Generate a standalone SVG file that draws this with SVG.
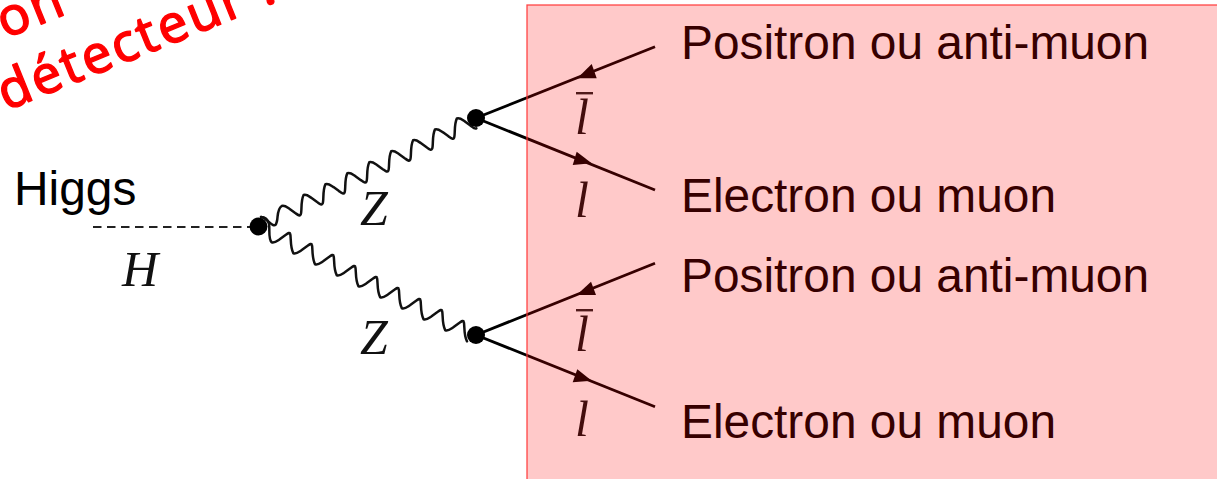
<svg xmlns="http://www.w3.org/2000/svg" width="1217" height="479" viewBox="0 0 1217 479">
<style>
.w{fill:none;stroke:#111;stroke-width:2.500;stroke-linejoin:round;stroke-linecap:round}
.f{fill:none;stroke:#000;stroke-width:2.800}
.h{fill:none;stroke:#222;stroke-width:2.200;stroke-dasharray:8.500 5.500}
.a{fill:#000}
.v{fill:#000}
.m{font-family:"Liberation Serif","DejaVu Serif",serif;font-style:italic;fill:#111;font-size:50px}
.t{font-family:"Liberation Sans",Arial,sans-serif;font-size:47.850px;fill:#000}
.r{font-family:"Noto Sans","DejaVu Sans",sans-serif;font-size:53px;fill:#f00;stroke:#f00;stroke-width:1.300;stroke-linejoin:round;letter-spacing:2.500px}
</style>
<rect width="1217" height="479" fill="#fff"/>
<g id="connectors">
<path id="higgs-line" class="h" d="M93 227H250"/>
<path id="z-upper" class="w" d="M261 217c4,0 9,7 12,8c3,1 3,-1 4,-4c1,-4 0,-12 4.700,-15c3,-1 5,1 8,3l5.500,4c2.500,1.700 4.500,3.500 5.500,1.500c1.500,-3 -0.300,-13 2.900,-19.450c3,-1 5,1 8,3l5.500,4c2.500,1.700 4.500,3.500 5.500,1.500c1.500,-3 -0.300,-13 2.900,-19.450c3,-1 5,1 8,3l5.500,4c2.500,1.700 4.500,3.500 5.500,1.500c1.500,-3 -0.300,-13 2.900,-19.450c3,-1 5,1 8,3l5.500,4c2.500,1.700 4.500,3.500 5.500,1.500c1.500,-3 -0.300,-13 2.900,-19.450c3,-1 5,1 8,3l5.500,4c2.500,1.700 4.500,3.500 5.500,1.500c1.500,-3 -0.300,-13 2.900,-19.450c3,-1 5,1 8,3l5.500,4c2.500,1.700 4.500,3.500 5.500,1.500c1.500,-3 -0.300,-13 2.900,-19.450c3,-1 5,1 8,3l5.500,4c2.500,1.700 4.500,3.500 5.500,1.500c1.500,-3 -0.300,-13 2.900,-19.450c3,-1 5,1 8,3l5.500,4c2.500,1.700 4.500,3.500 5.500,1.500c1.500,-3 -0.300,-13 2.900,-19.450c3,-1 5,1 8,3l5.500,4c2.500,2 4,4 6,3"/>
<path id="z-lower" class="w" d="M261 217c4,0 7,3 8,7c1,4 -1,15 2.700,18.300c3,1 5,-1 8,-3l5.500,-4c2.500,-1.700 4.500,-3.500 5,-1.500c1,3 -0.300,13 3.200,19.500c3,1 5,-1 8,-3l5.500,-4c2.500,-1.700 4.500,-3.500 5,-1.500c1,3 -0.300,13 3.200,19.500c3,1 5,-1 8,-3l5.500,-4c2.500,-1.700 4.500,-3.500 5,-1.500c1,3 -0.300,13 3.200,19.500c3,1 5,-1 8,-3l5.500,-4c2.500,-1.700 4.500,-3.500 5,-1.500c1,3 -0.300,13 3.200,19.500c3,1 5,-1 8,-3l5.500,-4c2.500,-1.700 4.500,-3.500 5,-1.500c1,3 -0.300,13 3.200,19.500c3,1 5,-1 8,-3l5.500,-4c2.500,-1.700 4.500,-3.500 5,-1.500c1,3 -0.300,13 3.200,19.500c3,1 5,-1 8,-3l5.500,-4c2.500,-1.700 4.500,-3.500 5,-1.500c1,3 -0.300,13 3.200,19.500c3,1 5,-1 8,-3l5.500,-4c2.500,-1.700 4.500,-3.500 5,-1.500c1,3 -0.300,13 3.200,19.500c3,1 5,-1 8,-3l5.500,-4c2.500,-1.700 4.500,-3.500 5,-1.500c1,3 -0.300,13 3.200,19.500"/>
<path class="f" d="M476 118L655 46.700"/>
<path class="f" d="M476 118L655 190"/>
<path class="f" d="M476 335L655 263.300"/>
<path class="f" d="M476 335L655 406.700"/>
<polygon class="a" points="591.700,64 596.700,78.300 577.300,78.300"/>
<polygon class="a" points="576.700,151.700 591.700,163.300 572.700,165"/>
<polygon class="a" points="591,281.700 596,295 576.700,295"/>
<polygon class="a" points="577.300,369.300 591.700,380.700 572.700,382.300"/>
</g>
<g id="vertex-higgs"><circle class="v" cx="258.500" cy="226.500" r="9"/></g>
<g id="vertex-upper"><circle class="v" cx="476" cy="118" r="9"/></g>
<g id="vertex-lower"><circle class="v" cx="476" cy="335" r="9"/></g>
<g id="label-higgs"><text class="t" x="14" y="205">Higgs</text></g>
<g id="label-h"><text class="m" x="122" y="286">H</text></g>
<g id="label-z-upper"><text class="m" x="360" y="225">Z</text></g>
<g id="label-z-lower"><text class="m" x="360" y="354">Z</text></g>
<g id="label-lbar-upper"><rect x="576" y="92" width="17" height="2.400" fill="#222"/><text class="m" x="575" y="134">l</text></g>
<g id="label-l-upper"><text class="m" x="575" y="217">l</text></g>
<g id="label-lbar-lower"><rect x="576" y="309" width="17" height="2.400" fill="#222"/><text class="m" x="575" y="351">l</text></g>
<g id="label-l-lower"><text class="m" x="575" y="436">l</text></g>
<g id="label-positron-1"><text class="t" x="681" y="59">Positron ou anti-muon</text></g>
<g id="label-electron-1"><text class="t" x="681" y="212">Electron ou muon</text></g>
<g id="label-positron-2"><text class="t" x="681" y="292">Positron ou anti-muon</text></g>
<g id="label-electron-2"><text class="t" x="681" y="438">Electron ou muon</text></g>
<g id="note">
<text class="r" transform="translate(5 39) rotate(-22)">on</text>
<text class="r" transform="translate(6 111) rotate(-22)">détecteur !</text>
</g>
<g id="detector"><rect x="527" y="5" width="695" height="480" fill="#f00" fill-opacity=".21" stroke="#f33" stroke-opacity=".9" stroke-width="1.300"/></g>
</svg>
